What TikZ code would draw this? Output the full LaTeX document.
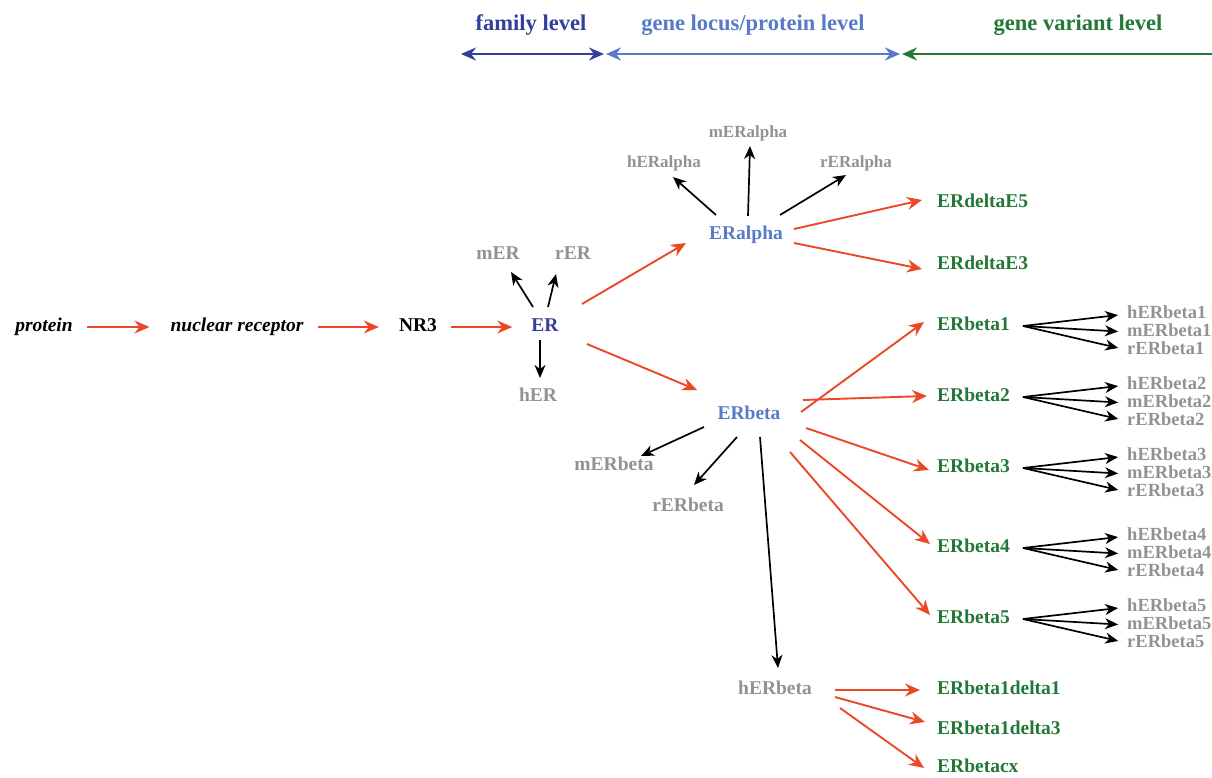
\documentclass[tikz,border=0pt]{standalone}
\usepackage{fontspec}
\setmainfont{Liberation Serif}
\usetikzlibrary{arrows.meta}
\definecolor{dblue}{RGB}{52,62,155}
\definecolor{lblue}{RGB}{88,122,200}
\definecolor{vgreen}{RGB}{35,120,55}
\definecolor{lgray}{RGB}{150,145,145}
\definecolor{rarr}{RGB}{236,72,38}
\tikzset{
  lbl/.style={inner sep=0pt, text height=13pt, text depth=4pt, font=\fontsize{19.5}{20}\selectfont\bfseries},
  slbl/.style={lbl, font=\fontsize{17}{18}\selectfont\bfseries},
  rlbl/.style={lbl, text=lgray, anchor=west, font=\fontsize{18.5}{19}\selectfont\bfseries},
  hdr/.style={inner sep=0pt, font=\fontsize{22.5}{23}\selectfont\bfseries},
  graylbl/.style={lbl, text=lgray},
  greenlbl/.style={lbl, text=vgreen, anchor=west},
  redarr/.style={draw=rarr, line width=1.9pt, -{Stealth[length=15pt,width=13pt,inset=5pt]}},
  blkarr/.style={draw=black, line width=1.7pt, -{Stealth[length=13pt,width=11pt,inset=4pt]}},
  lvl/.style={line width=2.8pt, {Stealth[length=15pt,width=13pt,inset=5pt]}-{Stealth[length=15pt,width=13pt,inset=5pt]}},
}
\begin{document}
\begin{tikzpicture}[x=1pt,y=-1pt]
\useasboundingbox (0,0) rectangle (1212,778);
% header
\node[hdr, text=dblue] (hfam) at (531,25) {family level};
\node[hdr, text=lblue] (hloc) at (753,25) {gene locus/protein level};
\node[hdr, text=vgreen] (hvar) at (1078,25) {gene variant level};
\coordinate (h0) at (461,54);
\coordinate (h1) at (605,54);
\coordinate (h2) at (901,54);
\coordinate (h3) at (1230,54);
\draw[lvl, draw=dblue] (h0) -- ([xshift=-1pt]h1);
\draw[lvl, draw=lblue] ([xshift=1pt]h1) -- ([xshift=-1pt]h2);
\draw[line width=2.8pt, draw=vgreen, {Stealth[length=15pt,width=13pt,inset=5pt]}-] ([xshift=1pt]h2) -- (h3);
% main chain
\node[lbl, font=\fontsize{19.5}{20}\selectfont\bfseries\itshape] (prot) at (44,327) {protein};
\node[lbl, font=\fontsize{19.5}{20}\selectfont\bfseries\itshape] (nrec) at (237,327) {nuclear receptor};
\node[lbl] (nr3) at (418,327) {NR3};
\node[lbl, text=dblue] (er) at (545,327) {ER};
\draw[redarr, shorten <=14pt, shorten >=21pt] (prot) -- (nrec);
\draw[redarr, shorten <=14pt, shorten >=20pt] (nrec) -- (nr3);
\draw[redarr, shorten <=14pt, shorten >=19pt] (nr3) -- (er);
% ER species
\node[graylbl] (mer) at (498,255) {mER};
\node[graylbl] (rer) at (573,255) {rER};
\node[graylbl] (her) at (538,397) {hER};
\draw[blkarr] ([shift={(-12,-20)}]er.center) -- ([shift={(13,17)}]mer.center);
\draw[blkarr] ([shift={(3,-20)}]er.center) -- ([shift={(-17,19)}]rer.center);
\draw[blkarr] ([shift={(-5,13)}]er.center) -- ([shift={(2,-19)}]her.center);
% ERalpha
\node[lbl, text=lblue] (era) at (746,235) {ERalpha};
\node[slbl, text=lgray] (hera) at (664,163) {hERalpha};
\node[slbl, text=lgray] (mera) at (748,133) {mERalpha};
\node[slbl, text=lgray] (rera) at (856,163) {rERalpha};
\node[greenlbl] (de5) at (937,203) {ERdeltaE5};
\node[greenlbl] (de3) at (937,265) {ERdeltaE3};
\draw[redarr] ([shift={(37,-23)}]er.center) -- ([shift={(-60,8)}]era.center);
\draw[blkarr] ([shift={(-30,-20)}]era.center) -- ([shift={(9,14)}]hera.center);
\draw[blkarr] ([shift={(2,-19)}]era.center) -- ([shift={(2,13)}]mera.center);
\draw[blkarr] ([shift={(34,-20)}]era.center) -- ([shift={(-10,12)}]rera.center);
\draw[redarr] ([shift={(48,-6)}]era.center) -- ([shift={(-15,-3)}]de5.west);
\draw[redarr] ([shift={(48,8)}]era.center) -- ([shift={(-15,4)}]de3.west);
% ERbeta
\node[lbl, text=lblue] (erb) at (749,415) {ERbeta};
\node[graylbl] (merb) at (614,466) {mERbeta};
\node[graylbl] (rerb) at (688,507) {rERbeta};
\node[graylbl] (herb) at (775,690) {hERbeta};
\draw[redarr] ([shift={(42,17)}]er.center) -- ([shift={(-52,-25)}]erb.center);
\draw[blkarr] ([shift={(-45,12)}]erb.center) -- ([shift={(27,-10)}]merb.center);
\draw[blkarr] ([shift={(-12,22)}]erb.center) -- ([shift={(6,-22)}]rerb.center);
\draw[blkarr] ([shift={(11,22)}]erb.center) -- ([shift={(3,-22)}]herb.center);
% variants
\foreach \i/\y in {1/326,2/397,3/468,4/548,5/619}{
  \node[greenlbl] (b\i) at (937,\y) {ERbeta\i};
  \node[rlbl] (hb\i) at (1127,\y-12) {hERbeta\i};
  \node[rlbl] (mb\i) at (1127,\y+6) {mERbeta\i};
  \node[rlbl] (rb\i) at (1127,\y+24) {rERbeta\i};
  \coordinate (f\i) at ([xshift=13pt]b\i.east);
  \draw[blkarr, shorten >=9pt] (f\i) -- (hb\i.west);
  \draw[blkarr, shorten >=9pt] (f\i) -- (mb\i.west);
  \draw[blkarr, shorten >=9pt] (f\i) -- (rb\i.west);
}
\draw[redarr] ([shift={(52,-3)}]erb.center) -- ([shift={(-13,-4)}]b1.west);
\draw[redarr] ([shift={(54,-15)}]erb.center) -- ([shift={(-10,-1)}]b2.west);
\draw[redarr] ([shift={(57,13)}]erb.center) -- ([shift={(-8,2)}]b3.west);
\draw[redarr] ([shift={(51,25)}]erb.center) -- ([shift={(-7,-4)}]b4.west);
\draw[redarr] ([shift={(41,37)}]erb.center) -- ([shift={(-7,-4)}]b5.west);
% hERbeta splice variants
\node[greenlbl] (bd1) at (937,690) {ERbeta1delta1};
\node[greenlbl] (bd3) at (937,730) {ERbeta1delta3};
\node[greenlbl] (bcx) at (937,768) {ERbetacx};
\draw[redarr] ([shift={(60,0)}]herb.center) -- ([shift={(-17,0)}]bd1.west);
\draw[redarr] ([shift={(60,7)}]herb.center) -- ([shift={(-12,-8)}]bd3.west);
\draw[redarr] ([shift={(65,18)}]herb.center) -- ([shift={(-13,0)}]bcx.west);
\end{tikzpicture}
\end{document}
